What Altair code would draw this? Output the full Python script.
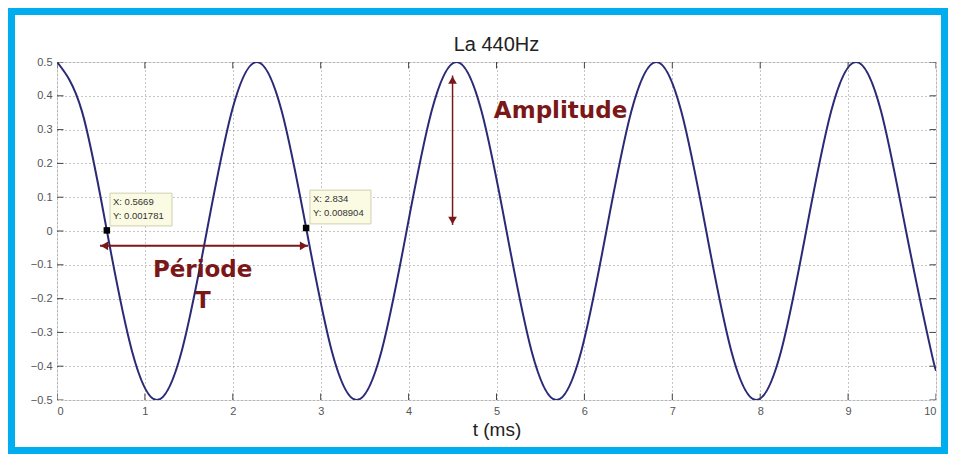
import altair as alt
import pandas as pd

# ---------------- data ----------------
title_text = "La 440Hz"
x_label = "t (ms)"

t_ms = [0.0, 0.284, 0.568, 0.852, 1.136, 1.420, 1.705, 1.989, 2.273, 2.557,
        2.841, 3.125, 3.409, 3.693, 3.977, 4.261, 4.545, 4.830, 5.114, 5.398,
        5.682, 5.966, 6.250, 6.534, 6.818, 7.102, 7.386, 7.670, 7.955, 8.239,
        8.523, 8.807, 9.091, 9.375, 9.659, 9.943, 10.0]
signal = [0.5, 0.354, 0.0, -0.354, -0.5, -0.354, 0.0, 0.354, 0.5, 0.354,
          0.0, -0.354, -0.5, -0.354, 0.0, 0.354, 0.5, 0.354, 0.0, -0.354,
          -0.5, -0.354, 0.0, 0.354, 0.5, 0.354, 0.0, -0.354, -0.5, -0.354,
          0.0, 0.354, 0.5, 0.354, 0.0, -0.354, -0.405]

x_ticks = [0, 1, 2, 3, 4, 5, 6, 7, 8, 9, 10]
y_ticks = [-0.5, -0.4, -0.3, -0.2, -0.1, 0.0, 0.1, 0.2, 0.3, 0.4, 0.5]

cursor_x = [0.5669, 2.834]
cursor_y = [0.001781, 0.008904]
cursor_line1 = ["X: 0.5669", "X: 2.834"]
cursor_line2 = ["Y: 0.001781", "Y: 0.008904"]
box_x0 = [0.603, 2.878]
box_x1 = [1.308, 3.572]
box_top = [0.112, 0.121]
box_bottom = [0.015, 0.021]

period_arrow_x = [0.489, 2.856]
period_arrow_y = -0.044
amp_arrow_x = 4.50
amp_arrow_y = [0.46, 0.018]

labels_text = ["Amplitude", "Période", "T"]
labels_x = [4.97, 1.657, 1.66]
labels_y = [0.334, -0.136, -0.228]
labels_align = ["left", "center", "center"]

# ---------------- styling ----------------
W, H = 879, 338
RED = "#7a1818"
NAVY = "#2a2a76"
xs = alt.Scale(domain=[0, 10], nice=False, zero=False)
ys = alt.Scale(domain=[-0.5, 0.5], nice=False, zero=False)

x_axis = alt.Axis(values=x_ticks, format="d", grid=True,
                  gridDash=[1, 3], gridColor="#8c8c8c", gridWidth=1,
                  labelFontSize=11, labelColor="#555",
                  labelFont="Liberation Sans",
                  tickSize=0, labelPadding=5, domain=False,
                  titleFont="Liberation Sans", titleFontSize=19,
                  titleFontWeight="normal", titleColor="#222",
                  titlePadding=4)
y_axis = alt.Axis(values=y_ticks, format=".1~f", grid=True,
                  gridDash=[1, 3], gridColor="#8c8c8c", gridWidth=1,
                  labelFontSize=11, labelColor="#555",
                  labelFont="Liberation Sans",
                  tickSize=0, labelPadding=5, domain=False)

X = alt.X("t:Q", scale=xs, title=x_label, axis=x_axis)
Y = alt.Y("v:Q", scale=ys, title=None, axis=y_axis)

curve_df = pd.DataFrame({"t": t_ms, "v": signal})
curve = alt.Chart(curve_df).mark_line(
    color=NAVY, strokeWidth=2, interpolate="natural", clip=True
).encode(x=X, y=Y)

# inner ticks (MATLAB style box)
xt_df = pd.DataFrame({"t": x_ticks * 2, "v": [-0.5] * len(x_ticks) + [0.5] * len(x_ticks)})
yt_df = pd.DataFrame({"t": [0] * len(y_ticks) + [10] * len(y_ticks), "v": y_ticks * 2})
xticks_layer = alt.Chart(xt_df).mark_tick(
    orient="vertical", size=13, thickness=1, color="#444", clip=True, opacity=1
).encode(x=X, y=Y)
yticks_layer = alt.Chart(yt_df).mark_tick(
    orient="horizontal", size=13, thickness=1, color="#444", clip=True, opacity=1
).encode(x=X, y=Y)

# arrows
h_rule = alt.Chart(pd.DataFrame({"t": [period_arrow_x[0]], "t2": [period_arrow_x[1]],
                                 "v": [period_arrow_y]})).mark_rule(
    color=RED, strokeWidth=2
).encode(x=X, x2="t2:Q", y=Y)
v_rule = alt.Chart(pd.DataFrame({"t": [amp_arrow_x], "v": [amp_arrow_y[0]],
                                 "v2": [amp_arrow_y[1]]})).mark_rule(
    color=RED, strokeWidth=1.5
).encode(x=X, y=Y, y2="v2:Q")

heads_df = pd.DataFrame({
    "t": [period_arrow_x[0] + 0.05, period_arrow_x[1] - 0.05, amp_arrow_x, amp_arrow_x],
    "v": [period_arrow_y, period_arrow_y, amp_arrow_y[0] - 0.013, amp_arrow_y[1] + 0.013],
    "shape": ["triangle-left", "triangle-right", "triangle-up", "triangle-down"],
})
heads = alt.Chart(heads_df).mark_point(
    filled=True, size=75, color=RED, opacity=1
).encode(x=X, y=Y, shape=alt.Shape("shape:N", scale=None, legend=None))

# data cursor boxes
box_df = pd.DataFrame({"t": box_x0, "t2": box_x1, "v": box_top, "v2": box_bottom,
                       "l1": cursor_line1, "l2": cursor_line2})
boxes = alt.Chart(box_df).mark_rect(
    fill="#fbfbe4", stroke="#cfcfb0", strokeWidth=1
).encode(x=X, x2="t2:Q", y=Y, y2="v2:Q")
box_txt1 = alt.Chart(box_df).mark_text(
    align="left", baseline="middle", dx=3, dy=9, fontSize=9.5,
    font="Liberation Sans", color="#333"
).encode(x=X, y=Y, text="l1:N")
box_txt2 = alt.Chart(box_df).mark_text(
    align="left", baseline="middle", dx=3, dy=23, fontSize=9.5,
    font="Liberation Sans", color="#333"
).encode(x=X, y=Y, text="l2:N")

cursor_df = pd.DataFrame({"t": cursor_x, "v": cursor_y})
cursors = alt.Chart(cursor_df).mark_square(
    size=42, color="black", opacity=1
).encode(x=X, y=Y)

# annotation labels
lab_df = pd.DataFrame({"t": labels_x, "v": labels_y, "txt": labels_text, "al": labels_align})
lab_left = alt.Chart(lab_df[lab_df["al"] == "left"]).mark_text(
    align="left", baseline="alphabetic", fontSize=23, fontWeight="bold",
    font="DejaVu Sans", color=RED
).encode(x=X, y=Y, text="txt:N")
lab_center = alt.Chart(lab_df[lab_df["al"] == "center"]).mark_text(
    align="center", baseline="alphabetic", fontSize=23, fontWeight="bold",
    font="DejaVu Sans", color=RED
).encode(x=X, y=Y, text="txt:N")

# chart title (as text) and outer blue frame (decoration)
one = pd.DataFrame({"a": [0]})
title_mark = alt.Chart(one).mark_text(
    align="center", baseline="alphabetic", fontSize=20, font="Liberation Sans",
    color="#222"
).encode(x=alt.value(W / 2), y=alt.value(-11), text=alt.value(title_text))
frame = alt.Chart(one).mark_rect(
    filled=False, stroke="#00aeef", strokeWidth=7
).encode(x=alt.value(-45.5), x2=alt.value(887.5),
         y=alt.value(-50.5), y2=alt.value(388.5))

chart = alt.layer(
    curve, frame, title_mark, xticks_layer, yticks_layer, h_rule, v_rule, heads,
    boxes, box_txt1, box_txt2, cursors, lab_left, lab_center
).properties(
    width=W, height=H,
    autosize=alt.AutoSizeParams(type="none"),
    padding={"left": 49, "top": 54, "right": 12, "bottom": 54},
).configure_view(
    stroke="#7f7f7f", strokeWidth=1
).configure(background="white")

chart.save("out.html", embed_options={"renderer": "svg", "actions": False})
